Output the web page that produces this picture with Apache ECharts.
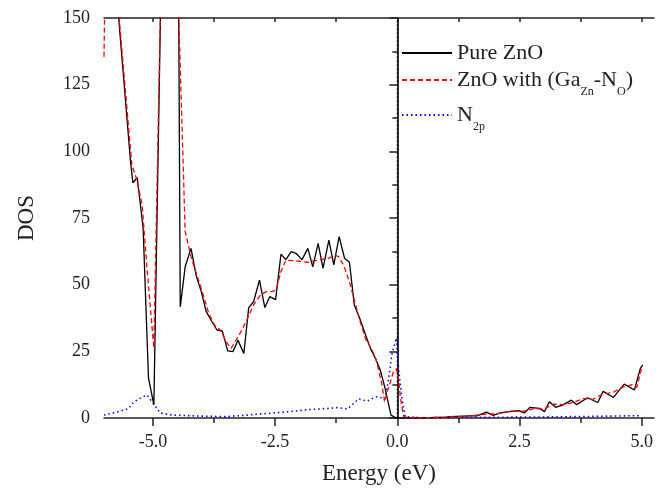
<!DOCTYPE html>
<html>
<head>
<meta charset="utf-8">
<script src="https://cdn.jsdelivr.net/npm/echarts@6/dist/echarts.min.js"></script>
<style>html,body{margin:0;padding:0;background:#fff}#c{width:669px;height:489px}</style>
</head>
<body>
<div id="c"></div>
<script>
// ---- data ----
var seriesNames = ['Pure ZnO', 'ZnO with (GaZn-NO)', 'N2p'];
var energyBlack = [-6.0, -5.70, -5.46, -5.41, -5.32, -5.20, -5.09, -4.98, -4.80, -4.50, -4.44, -4.34, -4.22, -4.11, -4.01, -3.91, -3.79, -3.69, -3.58, -3.47, -3.36, -3.26, -3.14, -3.04, -2.94, -2.82, -2.71, -2.61, -2.49, -2.38, -2.28, -2.17, -2.07, -1.95, -1.83, -1.73, -1.62, -1.52, -1.40, -1.30, -1.19, -1.08, -0.98, -0.88, -0.77, -0.65, -0.55, -0.45, -0.35, -0.25, -0.13, -0.02, 0.10, 0.50, 1.00, 1.08, 1.49, 1.63, 1.82, 1.96, 2.11, 2.31, 2.48, 2.60, 2.71, 2.91, 3.01, 3.11, 3.24, 3.39, 3.56, 3.67, 3.89, 4.10, 4.21, 4.42, 4.64, 4.85, 4.97, 5.02];
var dosBlack = [250, 150, 96.7, 88.2, 90.1, 71.3, 15, 4.9, 200, 250, 41.7, 56.7, 63.6, 53, 47.4, 39.9, 36.1, 33, 32.7, 25.2, 24.9, 29.2, 24.2, 41.4, 43.6, 51.7, 41.4, 45.5, 44.4, 61.4, 59.4, 62.4, 61.7, 59.4, 63.6, 56.7, 65.5, 56.1, 66.7, 57.4, 68, 59.9, 58.4, 42.4, 37.4, 31.1, 26.1, 22.4, 18, 11.1, 1.1, 0, 0, 0, 0.3, 0.5, 0.8, 0.8, 2.2, 1.0, 1.9, 2.5, 2.8, 1.9, 4.0, 3.6, 2.4, 6.1, 4.0, 4.9, 6.7, 5.0, 7.6, 5.8, 10.0, 7.7, 12.7, 10.5, 18.6, 19.9];
var energyRed = [-6.0, -5.90, -5.69, -5.43, -5.34, -5.22, -5.12, -4.98, -4.80, -4.60, -4.47, -4.34, -4.22, -4.10, -3.98, -3.86, -3.74, -3.62, -3.50, -3.40, -3.29, -3.18, -3.08, -2.94, -2.80, -2.68, -2.56, -2.48, -2.38, -2.28, -2.07, -1.83, -1.61, -1.40, -1.29, -1.20, -1.10, -0.98, -0.87, -0.76, -0.64, -0.53, -0.43, -0.32, -0.26, -0.21, -0.16, -0.08, -0.02, 0.03, 0.06, 0.13, 0.30, 1.00, 1.50, 1.80, 2.00, 2.20, 2.40, 2.60, 2.80, 3.00, 3.20, 3.40, 3.60, 3.80, 4.00, 4.20, 4.40, 4.60, 4.80, 4.90, 5.00];
var dosRed = [135.5, 260, 150, 94.9, 90, 80, 56, 26.2, 195, 260, 150, 70, 60.5, 53.6, 46.8, 39.3, 34.9, 33, 28.6, 26.1, 29.5, 33, 36.7, 42.4, 46.1, 47.4, 47.4, 48, 55, 59.2, 58.9, 58.4, 59.2, 59.9, 61.1, 60.5, 57.4, 51.1, 43.6, 36.1, 29.2, 26.1, 21.7, 13, 6, 9.9, 12.4, 17.4, 18.5, 14.2, 8, 0.5, 0, 0.3, 0.8, 1.5, 1.5, 2.2, 2.6, 2.6, 3.5, 3.4, 5.2, 5.0, 5.8, 7.3, 7.0, 9.0, 9.5, 11.5, 12.5, 11.5, 19];
var energyBlue = [-6.0, -5.70, -5.50, -5.39, -5.25, -5.12, -4.98, -4.85, -4.60, -4.00, -3.50, -3.00, -2.60, -2.19, -1.78, -1.40, -1.23, -1.02, -0.79, -0.62, -0.43, -0.25, -0.18, -0.11, -0.02, 0.01, 0.05, 0.10, 0.16, 0.50, 1.50, 3.00, 4.00, 5.00];
var dosBlue = [1.1, 2.4, 3.5, 6.0, 7.5, 8.6, 5.2, 1.9, 1.1, 0.7, 0.5, 1.2, 1.8, 2.4, 3.2, 3.6, 3.9, 3.4, 7.2, 6.3, 8.0, 7.3, 14.5, 24, 30, 21.7, 14.2, 6.5, 0.5, 0.1, 0.2, 0.4, 0.6, 0.9];
var fermiEnergy = 0;
var fermiLineY = [0, 150];
var xMajorTicks = [-5, -2.5, 0, 2.5, 5];
var xMinorTicks = [-3.75, -1.25, 1.25, 3.75];
var xTopTicks = [-5, -3.75, -2.5, -1.25, 0, 1.25, 2.5, 3.75, 5];

function pairs(xs, ys) { return xs.map(function (x, i) { return [x, ys[i]]; }); }

var legendRich = {};
legendRich[seriesNames[0]] = '{n|Pure ZnO}';
legendRich[seriesNames[1]] = '{n|ZnO with (Ga}{s|Zn}{n|-N}{s|O}{n|)}';
legendRich[seriesNames[2]] = '{n|N}{s|2p}';

var FONT = 'Liberation Serif';
var TXT = '#222';
var AX = { color: '#222', width: 1.5 };

var richStyles = {
  n: { fontFamily: FONT, fontSize: 22, color: TXT, lineHeight: 36, verticalAlign: 'middle' },
  s: { fontFamily: FONT, fontSize: 12, color: TXT, lineHeight: 10, verticalAlign: 'bottom' }
};

function mkLegend(name, top) {
  return {
    data: [name], left: 401, top: top, padding: 0, itemWidth: 50, itemHeight: 14, itemGap: 0,
    selectedMode: false,
    itemStyle: { opacity: 0 },
    formatter: function (nm) { return legendRich[nm]; },
    textStyle: { rich: richStyles }
  };
}

var chart = echarts.init(document.getElementById('c'), null, { renderer: 'canvas' });
chart.setOption({
  animation: false,
  backgroundColor: '#fff',
  grid: { left: 104, right: 15, top: 18, bottom: 71, containLabel: false, outerBoundsMode: 'none' },
  legend: [mkLegend(seriesNames[0], 42), mkLegend(seriesNames[1], 69), mkLegend(seriesNames[2], 104)],
  xAxis: [
    {
      type: 'value', position: 'bottom', min: -6, max: 5.25,
      name: 'Energy (eV)', nameLocation: 'middle', nameGap: 44,
      nameTextStyle: { fontFamily: FONT, fontSize: 23, color: TXT },
      axisLine: { show: true, lineStyle: AX },
      axisTick: { show: true, inside: false, length: 8, customValues: xMajorTicks, lineStyle: AX },
      axisLabel: { show: true, customValues: xMajorTicks, margin: 15, fontFamily: FONT, fontSize: 18, color: TXT,
        formatter: function (v) { return v.toFixed(1); } },
      splitLine: { show: false }
    },
    {
      type: 'value', position: 'bottom', min: -6, max: 5.25,
      axisLine: { show: false },
      axisTick: { show: true, inside: false, length: 5, customValues: xMinorTicks, lineStyle: AX },
      axisLabel: { show: false }, splitLine: { show: false }
    },
    {
      type: 'value', position: 'top', min: -6, max: 5.25,
      axisLine: { show: true, lineStyle: AX },
      axisTick: { show: true, inside: true, length: 4, customValues: xTopTicks, lineStyle: AX },
      axisLabel: { show: false }, splitLine: { show: false }
    }
  ],
  yAxis: [
    {
      type: 'value', position: 'left', min: 0, max: 150, interval: 25,
      name: 'DOS', nameLocation: 'middle', nameGap: 66, nameRotate: 90,
      nameTextStyle: { fontFamily: FONT, fontSize: 23, color: TXT },
      axisLine: { show: true, lineStyle: AX },
      axisTick: { show: true, inside: false, length: 8, lineStyle: AX },
      minorTick: { show: true, splitNumber: 2, length: 5, lineStyle: AX },
      axisLabel: { show: true, margin: 14, fontFamily: FONT, fontSize: 18, color: TXT },
      splitLine: { show: false }, minorSplitLine: { show: false }
    },
    {
      type: 'value', position: 'right', min: 0, max: 150, interval: 12.5,
      axisLine: { show: true, lineStyle: AX },
      axisTick: { show: true, inside: true, length: 4, lineStyle: AX },
      axisLabel: { show: false }, splitLine: { show: false }
    }
  ],
  series: [
    {
      name: 'Fermi level', type: 'line', xAxisIndex: 0, yAxisIndex: 0,
      data: fermiLineY.map(function (y) { return [fermiEnergy, y]; }),
      symbol: 'none', showSymbol: false, silent: true,
      lineStyle: { color: '#000', width: 1.2, type: [1.5, 2.5] }, z: 1
    },
    {
      name: seriesNames[0], type: 'line', xAxisIndex: 0, yAxisIndex: 0,
      data: pairs(energyBlack, dosBlack), symbol: 'none', showSymbol: false, clip: true,
      lineStyle: { color: '#000', width: 1.3, type: 'solid' }, itemStyle: { color: '#000' },
      z: 3
    },
    {
      name: seriesNames[1], type: 'line', xAxisIndex: 0, yAxisIndex: 0,
      data: pairs(energyRed, dosRed), symbol: 'none', showSymbol: false, clip: true,
      lineStyle: { color: '#ff0000', width: 1.3, type: [5, 3] }, itemStyle: { color: '#ff0000' },
      z: 4
    },
    {
      name: seriesNames[2], type: 'line', xAxisIndex: 0, yAxisIndex: 0,
      data: pairs(energyBlue, dosBlue), symbol: 'none', showSymbol: false, clip: true,
      lineStyle: { color: '#0000ff', width: 1.6, type: [1.5, 3] }, itemStyle: { color: '#0000ff' },
      z: 2
    }
  ]
});
</script>
</body>
</html>
